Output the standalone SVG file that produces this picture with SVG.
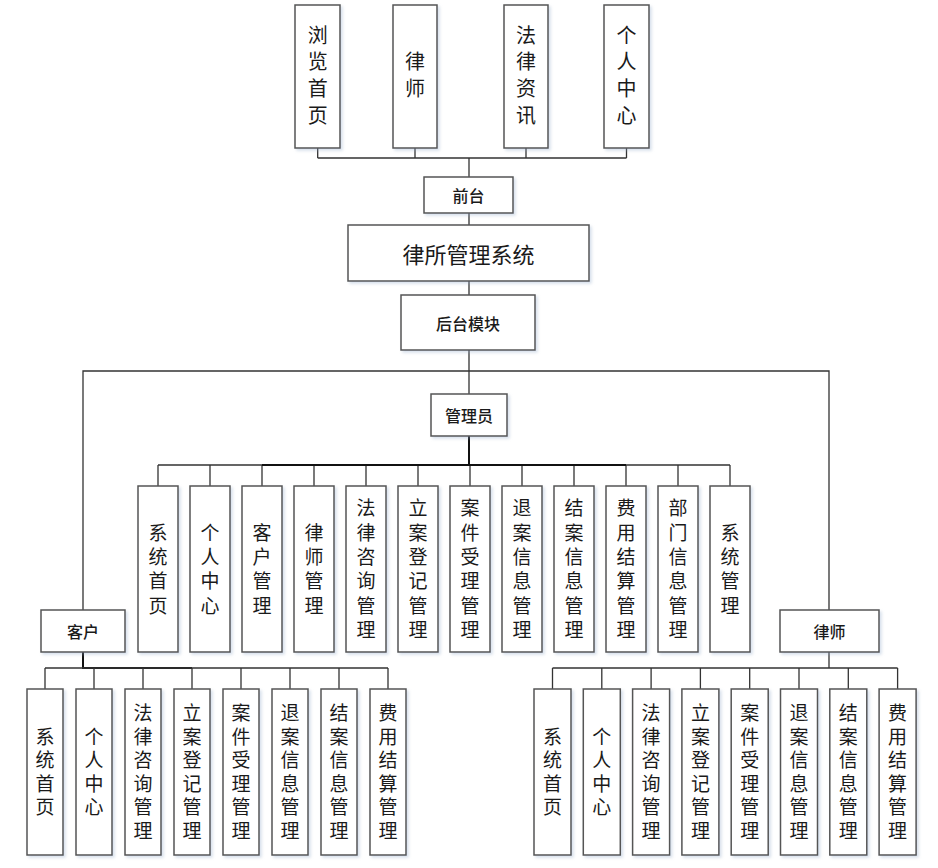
<svg xmlns="http://www.w3.org/2000/svg" width="938" height="868" viewBox="0 0 938 868">
<defs>
<filter id="sh" x="-20%" y="-20%" width="150%" height="150%">
<feDropShadow dx="2" dy="2" stdDeviation="1.5" flood-color="#8fa6c8" flood-opacity="0.35"/>
</filter>
</defs>
<style>
.box{fill:#fff;stroke:#555;stroke-width:1.5;filter:url(#sh)}
.ln{fill:none;stroke:#333;stroke-width:1.3}
.tk{fill:none;stroke:#111;stroke-width:2}
text{font-family:"Noto Sans CJK SC","Liberation Sans",sans-serif;fill:#1a1a1a;text-anchor:middle;dominant-baseline:central}
.v20{font-size:20px;writing-mode:vertical-rl;letter-spacing:6.7px}
.va{font-size:19px;writing-mode:vertical-rl;letter-spacing:5.3px}
.vb{font-size:19px;writing-mode:vertical-rl;letter-spacing:4.5px}
.lab{font-size:16px;font-weight:500}
.big{font-size:22px}
</style>
<rect width="938" height="868" fill="#fff"/>
<g id="connectors">
<path class="ln" d="M317.7 148V158M415 148V158M526 148V158M626.5 148V158M317.7 158H626.5M469 158V177"/>
<path class="ln" d="M469 213V225M469 281V295M469 350V394"/>
<path class="ln" d="M83 610V371H829V610"/>
<path class="tk" d="M469 436V465"/>
<path class="ln" d="M158 465H730M158 465V486M210 465V486M262 465V486M314 465V486M366 465V486M418 465V486M470 465V486M522 465V486M574 465V486M626 465V486M678 465V486M730 465V486"/>
<path class="tk" d="M262 465H626"/>
<path class="tk" d="M83 652V668H192"/>
<path class="ln" d="M45 668H388M45 668V689M94 668V689M143 668V689M192 668V689M241 668V689M290 668V689M339 668V689M388 668V689"/>
<path class="ln" d="M829 652V668M552.5 668H897.6M552.5 668V689M601.8 668V689M651.1 668V689M700.4 668V689M749.7 668V689M799 668V689M848.3 668V689M897.6 668V689"/>
</g>
<g id="top-1"><rect class="box" x="295" y="5" width="45" height="143"/><text class="v20" x="317.7" y="78.4">浏览首页</text></g>
<g id="top-2"><rect class="box" x="393" y="5" width="44" height="143"/><text class="v20" x="415" y="78.4">律师</text></g>
<g id="top-3"><rect class="box" x="504" y="5" width="44" height="143"/><text class="v20" x="526" y="78.4">法律资讯</text></g>
<g id="top-4"><rect class="box" x="604" y="5" width="45" height="143"/><text class="v20" x="626.5" y="78.4">个人中心</text></g>
<g id="qiantai"><rect class="box" x="424" y="177" width="89" height="36"/><text class="lab" x="468.5" y="195">前台</text></g>
<g id="system"><rect class="box" x="348" y="225" width="241" height="56"/><text class="big" x="468.5" y="253">律所管理系统</text></g>
<g id="houtai"><rect class="box" x="401" y="295" width="134" height="55"/><text class="lab" x="468" y="322.5">后台模块</text></g>
<g id="admin"><rect class="box" x="431" y="394" width="76" height="42"/><text class="lab" x="469" y="415">管理员</text></g>
<g id="client"><rect class="box" x="41" y="610" width="84" height="42"/><text class="lab" x="83" y="631">客户</text></g>
<g id="lawyer"><rect class="box" x="780" y="610" width="99" height="42"/><text class="lab" x="829.5" y="631">律师</text></g>

<g id="a1"><rect class="box" x="138" y="486" width="40" height="166"/><text class="va" x="158" y="571.6">系统首页</text></g>
<g id="a2"><rect class="box" x="190" y="486" width="40" height="166"/><text class="va" x="210" y="571.6">个人中心</text></g>
<g id="a3"><rect class="box" x="242" y="486" width="40" height="166"/><text class="va" x="262" y="571.6">客户管理</text></g>
<g id="a4"><rect class="box" x="294" y="486" width="40" height="166"/><text class="va" x="314" y="571.6">律师管理</text></g>
<g id="a5"><rect class="box" x="346" y="486" width="40" height="166"/><text class="va" x="366" y="571.6">法律咨询管理</text></g>
<g id="a6"><rect class="box" x="398" y="486" width="40" height="166"/><text class="va" x="418" y="571.6">立案登记管理</text></g>
<g id="a7"><rect class="box" x="450" y="486" width="40" height="166"/><text class="va" x="470" y="571.6">案件受理管理</text></g>
<g id="a8"><rect class="box" x="502" y="486" width="40" height="166"/><text class="va" x="522" y="571.6">退案信息管理</text></g>
<g id="a9"><rect class="box" x="554" y="486" width="40" height="166"/><text class="va" x="574" y="571.6">结案信息管理</text></g>
<g id="a10"><rect class="box" x="606" y="486" width="40" height="166"/><text class="va" x="626" y="571.6">费用结算管理</text></g>
<g id="a11"><rect class="box" x="658" y="486" width="40" height="166"/><text class="va" x="678" y="571.6">部门信息管理</text></g>
<g id="a12"><rect class="box" x="710" y="486" width="40" height="166"/><text class="va" x="730" y="571.6">系统管理</text></g>

<g id="c1"><rect class="box" x="27" y="689" width="36" height="166"/><text class="vb" x="45" y="774.2">系统首页</text></g>
<g id="c2"><rect class="box" x="76" y="689" width="36" height="166"/><text class="vb" x="94" y="774.2">个人中心</text></g>
<g id="c3"><rect class="box" x="125" y="689" width="36" height="166"/><text class="vb" x="143" y="774.2">法律咨询管理</text></g>
<g id="c4"><rect class="box" x="174" y="689" width="36" height="166"/><text class="vb" x="192" y="774.2">立案登记管理</text></g>
<g id="c5"><rect class="box" x="223" y="689" width="36" height="166"/><text class="vb" x="241" y="774.2">案件受理管理</text></g>
<g id="c6"><rect class="box" x="272" y="689" width="36" height="166"/><text class="vb" x="290" y="774.2">退案信息管理</text></g>
<g id="c7"><rect class="box" x="321" y="689" width="36" height="166"/><text class="vb" x="339" y="774.2">结案信息管理</text></g>
<g id="c8"><rect class="box" x="370" y="689" width="36" height="166"/><text class="vb" x="388" y="774.2">费用结算管理</text></g>

<g id="l1"><rect class="box" x="534" y="689" width="37" height="166"/><text class="vb" x="552.5" y="774.2">系统首页</text></g>
<g id="l2"><rect class="box" x="583.3" y="689" width="37" height="166"/><text class="vb" x="601.8" y="774.2">个人中心</text></g>
<g id="l3"><rect class="box" x="632.6" y="689" width="37" height="166"/><text class="vb" x="651.1" y="774.2">法律咨询管理</text></g>
<g id="l4"><rect class="box" x="681.9" y="689" width="37" height="166"/><text class="vb" x="700.4" y="774.2">立案登记管理</text></g>
<g id="l5"><rect class="box" x="731.2" y="689" width="37" height="166"/><text class="vb" x="749.7" y="774.2">案件受理管理</text></g>
<g id="l6"><rect class="box" x="780.5" y="689" width="37" height="166"/><text class="vb" x="799" y="774.2">退案信息管理</text></g>
<g id="l7"><rect class="box" x="829.8" y="689" width="37" height="166"/><text class="vb" x="848.3" y="774.2">结案信息管理</text></g>
<g id="l8"><rect class="box" x="879.1" y="689" width="37" height="166"/><text class="vb" x="897.6" y="774.2">费用结算管理</text></g>
</svg>
